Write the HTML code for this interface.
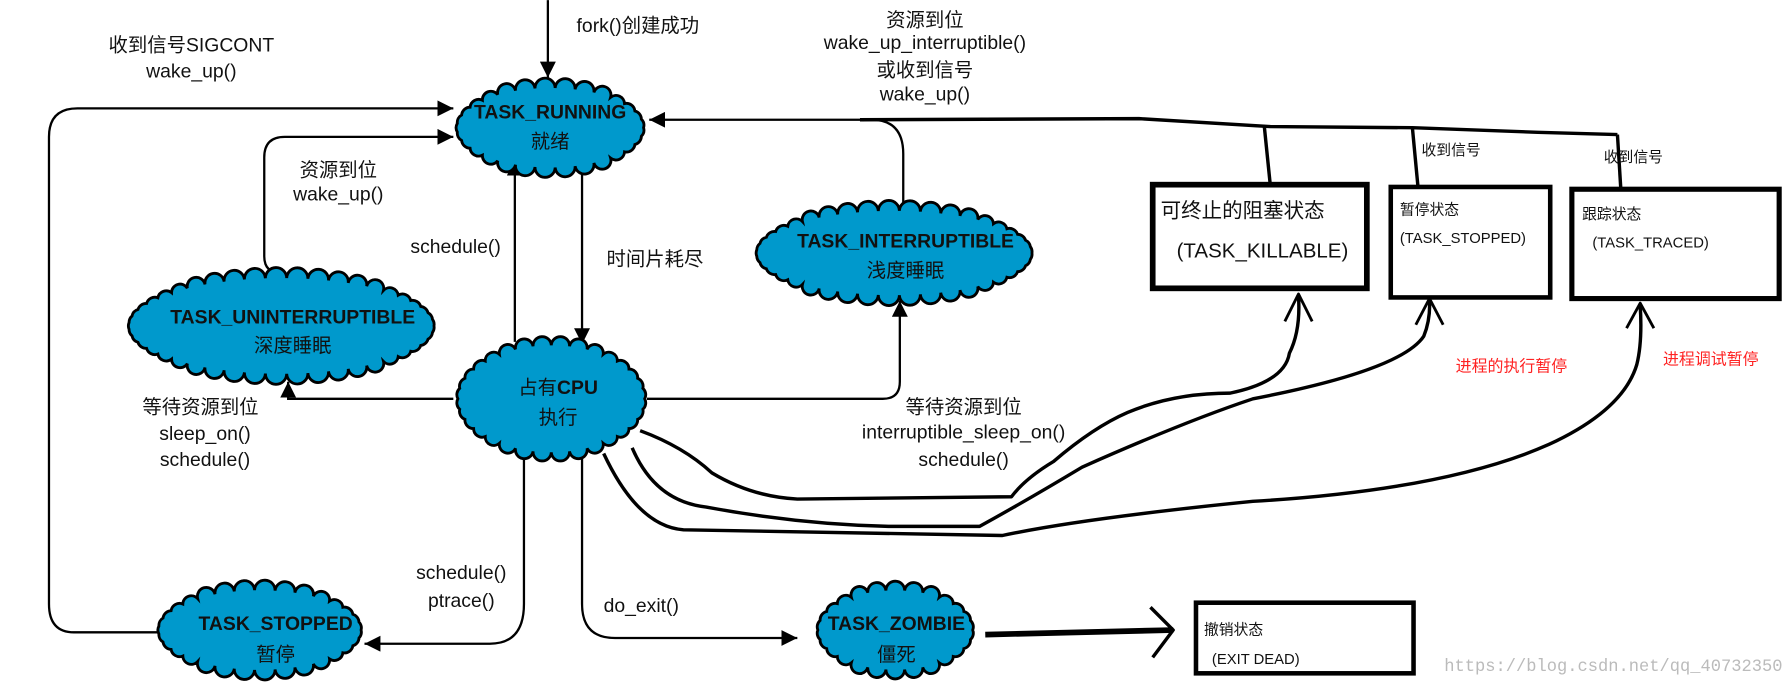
<!DOCTYPE html>
<html><head><meta charset="utf-8"><style>
html,body{margin:0;padding:0;background:#fff;overflow:hidden}
svg{display:block}
text{font-family:"Liberation Sans","Noto Sans CJK SC",sans-serif;fill:#111}
.l{font-size:17px;text-anchor:middle}
.b{font-size:17px;font-weight:bold;text-anchor:middle}
.s{font-size:13px}
.r{font-size:14px;fill:#f22}
</style></head><body>
<svg id="s" width="1786" height="686" viewBox="0 0 1568 602" xmlns="http://www.w3.org/2000/svg">
<defs>
<marker id="a" viewBox="0 0 10 10" refX="10" refY="5" markerWidth="14" markerHeight="14" markerUnits="userSpaceOnUse" orient="auto"><path d="M0,0L10,5L0,10z" fill="#000"/></marker>
</defs>
<g fill="none" stroke="#000" stroke-width="2">
<path d="M481,0V68" marker-end="url(#a)"/>
<path d="M140,555H65Q43,555 43,530V120Q43,95 68,95H398" marker-end="url(#a)"/>
<path d="M248,240Q232,240 232,225V138Q232,120 250,120H398" marker-end="url(#a)"/>
<path d="M452,300V140" marker-end="url(#a)"/>
<path d="M511,150V302" marker-end="url(#a)"/>
<path d="M398,350H253V335" marker-end="url(#a)"/>
<path d="M568,350H775Q790,350 790,335V264" marker-end="url(#a)"/>
<path d="M793,190V135Q793,105 765,105H570" marker-end="url(#a)"/>
<path d="M460,400V530Q460,565 430,565H320" marker-end="url(#a)"/>
<path d="M511,400V530Q511,560 540,560H700" marker-end="url(#a)"/>
</g>
<g fill="none" stroke="#000" stroke-width="3" stroke-linejoin="round">
<path d="M755,105L1000,104L1115,111L1240,112L1350,116L1420,118"/>
<path d="M1110,111L1115,160"/>
<path d="M1240,112L1245,165"/>
<path d="M1420,118L1423,166"/>
<path d="M562,378Q600,392 625,415Q660,436 700,438L888,436Q900,420 925,405Q960,375 990,362Q1030,345 1080,345Q1128,335 1132,310Q1142,290 1140,260"/>
<path d="M555,393Q575,440 620,445Q700,460 780,462L860,462Q900,440 950,410Q1040,370 1100,350Q1230,325 1250,295Q1256,280 1255,263"/>
<path d="M530,398Q560,462 600,465L880,470Q950,455 1100,440Q1270,430 1360,390Q1425,360 1437,320Q1442,300 1440,268"/>
<path d="M1128,282L1140,258L1152,282M1243,285L1255,262L1267,285M1428,288L1440,266L1452,288" stroke-width="2.5"/>
<path d="M865,557L1030,553" stroke-width="5"/>
<path d="M1010,533L1030,553L1012,577" stroke-width="3"/>
</g>
<g fill="none" stroke="#000">
<rect x="1012" y="162" width="188" height="91" stroke-width="5"/>
<rect x="1221" y="164" width="140" height="97" stroke-width="4"/>
<rect x="1380" y="166" width="182" height="96" stroke-width="4.5"/>
<rect x="1050" y="529" width="191" height="62" stroke-width="4"/>
</g>
<g id="clouds"></g>
<text class="b" x="483" y="104">TASK_RUNNING</text><text class="l" x="483" y="130">就绪</text>
<text class="b" x="257" y="284">TASK_UNINTERRUPTIBLE</text><text class="l" x="257" y="309">深度睡眠</text>
<text class="b" x="795" y="217">TASK_INTERRUPTIBLE</text><text class="l" x="795" y="243">浅度睡眠</text>
<text class="l" x="490" y="346">占有<tspan font-weight="bold">CPU</tspan></text><text class="l" x="490" y="372">执行</text>
<text class="b" x="242" y="553">TASK_STOPPED</text><text class="l" x="242" y="580">暂停</text>
<text class="b" x="787" y="553">TASK_ZOMBIE</text><text class="l" x="787" y="580">僵死</text>
<text class="l" x="560" y="28">fork()创建成功</text>
<text class="l" x="168" y="45">收到信号SIGCONT</text><text class="l" x="168" y="68">wake_up()</text>
<text class="l" x="297" y="155">资源到位</text><text class="l" x="297" y="176">wake_up()</text>
<text class="l" x="400" y="222">schedule()</text>
<text class="l" x="575" y="233">时间片耗尽</text>
<text class="l" x="812" y="23">资源到位</text><text class="l" x="812" y="43">wake_up_interruptible()</text><text class="l" x="812" y="67">或收到信号</text><text class="l" x="812" y="88">wake_up()</text>
<text class="l" x="176" y="363">等待资源到位</text><text class="l" x="180" y="386">sleep_on()</text><text class="l" x="180" y="409">schedule()</text>
<text class="l" x="846" y="363">等待资源到位</text><text class="l" x="846" y="385">interruptible_sleep_on()</text><text class="l" x="846" y="409">schedule()</text>
<text class="l" x="405" y="508">schedule()</text><text class="l" x="405" y="533">ptrace()</text>
<text class="l" x="563" y="537">do_exit()</text>
<text x="1019" y="191" style="font-size:18px">可终止的阻塞状态</text>
<text x="1033" y="226" style="font-size:18px">(TASK_KILLABLE)</text>
<text class="s" x="1229" y="188">暂停状态</text><text class="s" x="1229" y="213">(TASK_STOPPED)</text>
<text class="s" x="1389" y="192">跟踪状态</text><text class="s" x="1398" y="217">(TASK_TRACED)</text>
<text class="s" x="1248" y="136">收到信号</text><text class="s" x="1408" y="142">收到信号</text>
<text class="r" x="1278" y="326">进程的执行暂停</text><text class="r" x="1460" y="320">进程调试暂停</text>
<text class="s" x="1057" y="557">撤销状态</text><text class="s" x="1064" y="583">(EXIT DEAD)</text>
<text x="1268" y="589" style="font-size:15px;font-family:'Liberation Mono',monospace;fill:#bbb">https://blog.csdn.net/qq_40732350</text>
</svg>
<script>
var C=[[483,112,82,35],[247,286,134,42],[785,222,121,37],[484,350,82,47],[228,553,89,35],[786,553,68,35]];
var g=document.getElementById('clouds'),ns='http://www.w3.org/2000/svg';
C.forEach(function(c){var per=Math.PI*(3*(c[2]+c[3])-Math.sqrt((3*c[2]+c[3])*(c[2]+3*c[3])));var n=Math.round(per/13),d='';
for(var i=0;i<=n;i++){var t=i/n*2*Math.PI,x=c[0]+c[2]*Math.cos(t),y=c[1]+c[3]*Math.sin(t);
d+=(i?'A7.5,7.5 0 0 1 ':'M')+x.toFixed(1)+','+y.toFixed(1)+' ';}
var p=document.createElementNS(ns,'path');p.setAttribute('d',d+'z');p.setAttribute('fill','#0099cc');p.setAttribute('stroke','#000');p.setAttribute('stroke-width','2.5');g.appendChild(p);});
</script>
</body></html>
